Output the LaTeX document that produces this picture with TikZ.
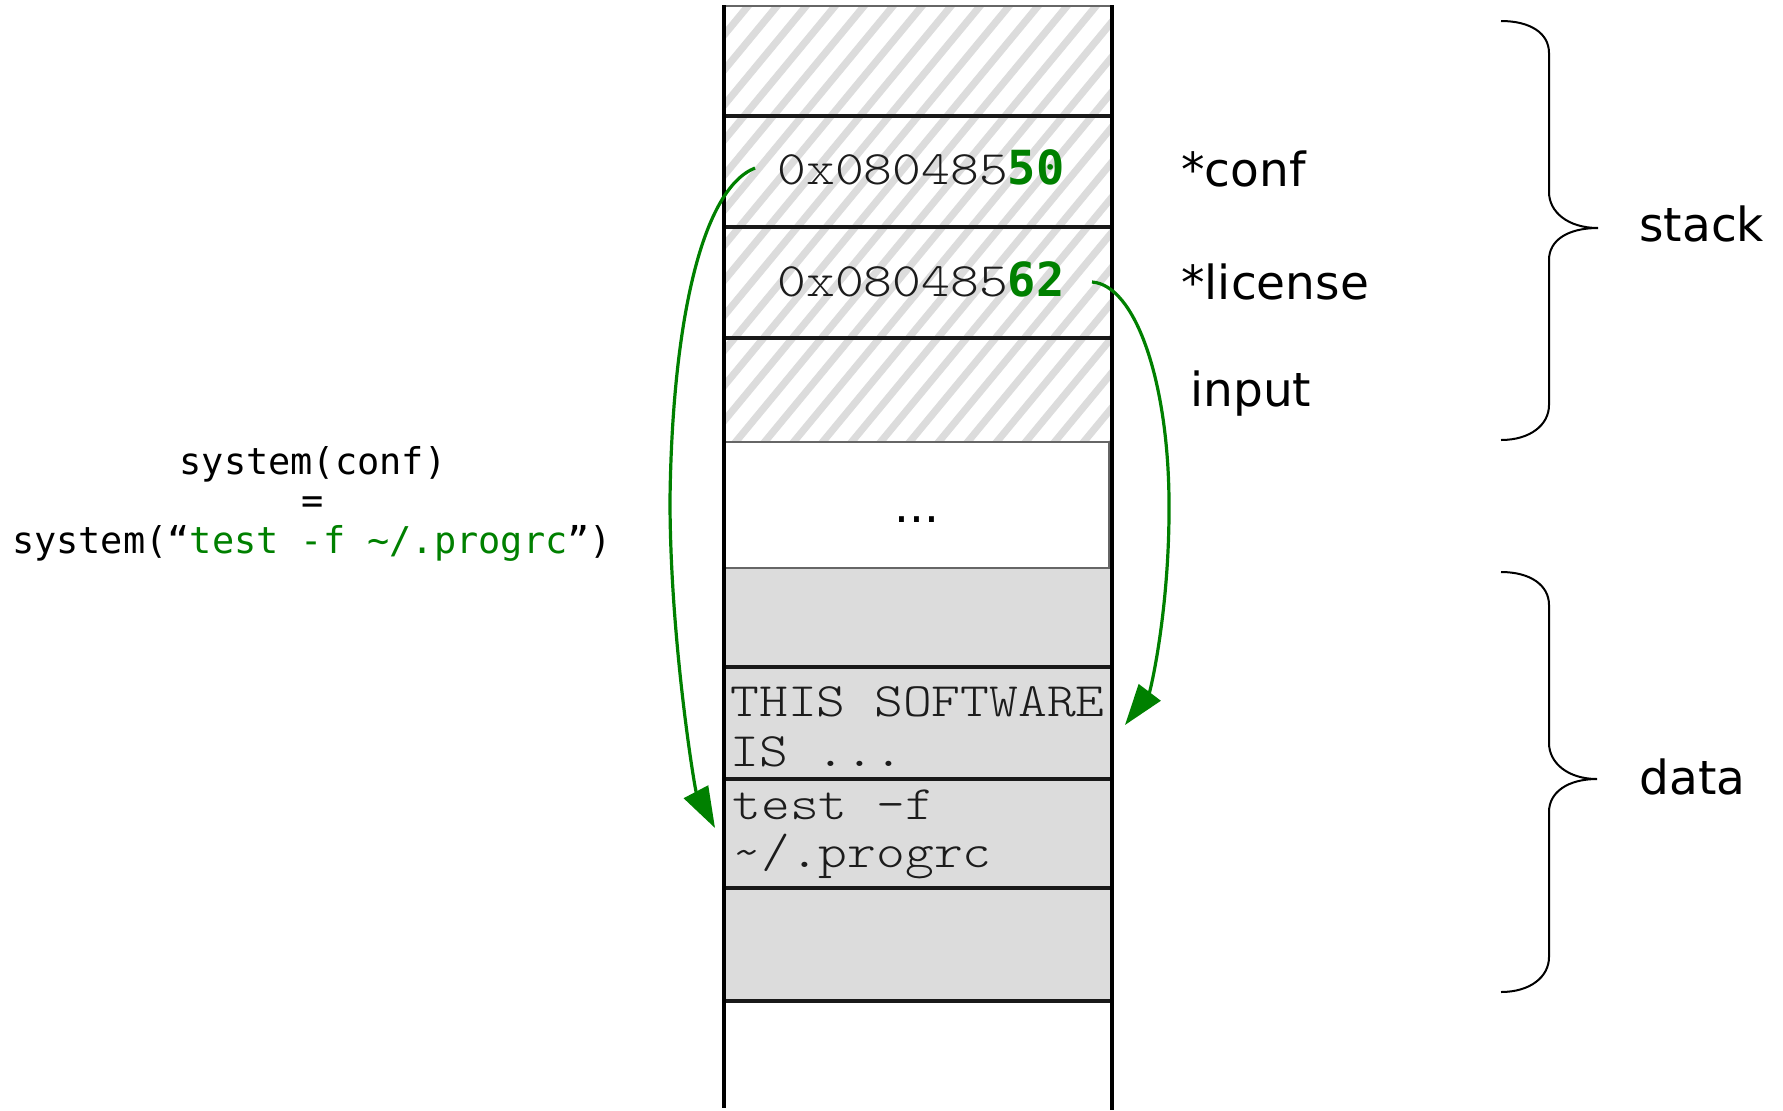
\documentclass[tikz,border=0pt]{standalone}
\usepackage{fontspec}
\usetikzlibrary{arrows.meta}
\setmainfont{DejaVu Sans}
\newfontfamily\labelfont{DejaVu Sans}
\newfontfamily\codefont{DejaVu Sans Mono}
\newfontfamily\memfont{lmmonolt10-regular.otf}[FakeStretch=1.143]

\definecolor{codegreen}{RGB}{0,128,0}
\definecolor{cellgray}{RGB}{220,220,220}
\definecolor{hatchgray}{RGB}{220,220,220}
\definecolor{inkgray}{RGB}{28,28,28}

\tikzset{
  lbl/.style={font=\labelfont\fontsize{23.5}{28}\selectfont, inner sep=0pt, anchor=base west},
  code/.style={font=\codefont\fontsize{18.45}{22}\selectfont, inner sep=0pt, anchor=base},
  mem/.style={font=\memfont\fontsize{24}{28}\selectfont, text=inkgray, inner sep=0pt, anchor=base west},
  wall/.style={line width=2.4pt, draw=black},
  divider/.style={line width=2.2pt, draw=black!90},
  thinrule/.style={line width=0.7pt, draw=black!60},
  hatchline/.style={line width=3.6pt, draw=hatchgray},
  brace/.style={line width=1pt, draw=black},
  arr/.style={draw=codegreen, line width=1.6pt,
              -{Triangle[length=20.5pt,width=13.5pt,fill=codegreen]}}
}

\begin{document}
\begin{tikzpicture}[x=0.5pt,y=-0.5pt]
\useasboundingbox (0,0) rectangle (1783,1110);

% data segment cells
\fill[cellgray] (724,568) rectangle (1112,1001);

% hatched stack slots
\begin{scope}
  \clip (724,6) rectangle (1112,442);
  \foreach \k in {0,...,28}
    \draw[hatchline] (352+29*\k,450) -- ++(372,-450);
\end{scope}

% unused gap between stack and data
\draw[thinrule, fill=white] (725,442) rectangle (1109,568);

% cell borders
\draw[thinrule] (724,6) -- (1112,6);
\foreach \y in {116,227,338,667,779,888,1001}
  \draw[divider] (724,\y) -- (1112,\y);
\draw[wall] (724,5) -- (724,1108);
\draw[wall] (1112,5) -- (1112,1110);

% cell contents
\node[mem] (addrconf) at (777,184) {0x080485{\codefont\bfseries\fontsize{23.5}{28}\selectfont\color{codegreen}50}};
\node[mem] (addrlic) at (777,296) {0x080485{\codefont\bfseries\fontsize{23.5}{28}\selectfont\color{codegreen}62}};
\node[lbl, anchor=base] (gap) at (917,522) {...};
\node[mem] (lictext) at (730,716) {THIS SOFTWARE};
\node[mem] (lictext2) at (730,766) {IS ...};
\node[mem] (conftext) at (732,819) {test -f};
\node[mem] (conftext2) at (732,867) {\textasciitilde/.progrc};

% variable names
\node[lbl] (conf) at (1181,186) {*conf};
\node[lbl] (license) at (1181,299) {*license};
\node[lbl] (input) at (1190,406) {input};

% segment braces
\draw[brace] (1501,21) .. controls (1530,21) and (1549,33) .. (1549,53)
  -- (1549,192) .. controls (1549,212) and (1568,228) .. (1598,228)
  .. controls (1568,228) and (1549,240) .. (1549,260)
  -- (1549,405) .. controls (1549,425) and (1530,440) .. (1501,440);
\draw[brace] (1501,572) .. controls (1530,572) and (1549,585) .. (1549,605)
  -- (1549,743) .. controls (1549,763) and (1568,779) .. (1597,779)
  .. controls (1568,779) and (1549,792) .. (1549,812)
  -- (1549,957) .. controls (1549,977) and (1530,992) .. (1501,992);
\node[lbl] (stack) at (1639,241) {stack};
\node[lbl] (data) at (1639,794) {data};

% the call on the left
\node[code] (call1) at (313,474) {system(conf)};
\node[code] (call2) at (313,513) {=};
\node[code] (call3) at (312,553) {system(“{\color{codegreen}test -f \textasciitilde/.progrc}”)};

% pointers into the data segment
\coordinate (confsrc) at (755,168);
\coordinate (conftgt) at (715,828);
\coordinate (licsrc) at (1092,282);
\coordinate (lictgt) at (1125,725);
\draw[arr] (confsrc) .. controls (700,190) and (672,330) .. (670,500)
  .. controls (670,640) and (695,790) .. (conftgt);
\draw[arr] (licsrc) .. controls (1135,285) and (1168,380) .. (1169,500)
  .. controls (1170,610) and (1150,692) .. (lictgt);
\end{tikzpicture}
\end{document}
